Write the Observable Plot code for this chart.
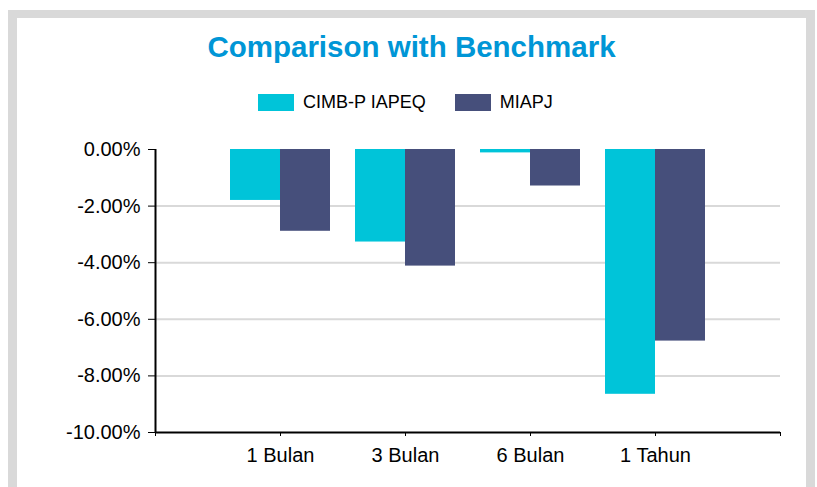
<!DOCTYPE html>
<html>
<head>
<meta charset="utf-8">
<script src="https://cdn.jsdelivr.net/npm/d3@7"></script>
<script src="https://cdn.jsdelivr.net/npm/@observablehq/plot@0.6"></script>
<style>
  html, body { margin: 0; padding: 0; background: #fff; }
  body { width: 817px; height: 487px; position: relative; overflow: hidden; font-family: "Liberation Sans", Arial, sans-serif; }
  #frame { position: absolute; left: 8px; top: 10px; width: 789px; height: 600px; border: 9px solid #d9d9d9; border-top-width: 8px; border-bottom: none; }
  #title { position: absolute; left: 17px; width: 789px; top: 29px; text-align: center; font-weight: bold; font-size: 29.5px; color: #0096d6; line-height: 36px; }
  #legend { position: absolute; left: 258px; top: 86px; }
  #legend .lg-swatch { margin-right: 29px !important; }
  #legend .lg-swatch > svg { margin-right: 9px !important; }
  #chart { position: absolute; left: 0; top: 130px; }
</style>
</head>
<body>
<div id="frame"></div>
<div id="title">Comparison with Benchmark</div>
<div id="legend"></div>
<div id="chart"></div>
<script>
const categories = ["1 Bulan", "3 Bulan", "6 Bulan", "1 Tahun"];
const seriesNames = ["CIMB-P IAPEQ", "MIAPJ"];
const cimbValues = [-1.80, -3.27, -0.12, -8.65];
const miapjValues = [-2.89, -4.12, -1.29, -6.77];
const yTicks = [0, -2, -4, -6, -8, -10];
const colors = ["#00c4d9", "#464f7b"];

const barWidth = 0.4;
const rows = [];
categories.forEach((c, i) => {
  rows.push({cat: c, pos: i + 1, series: seriesNames[0], value: cimbValues[i], x1: i + 1 - barWidth, x2: i + 1});
  rows.push({cat: c, pos: i + 1, series: seriesNames[1], value: miapjValues[i], x1: i + 1, x2: i + 1 + barWidth});
});
const xTicks = d3.range(0, categories.length + 2);

const font = '"Liberation Sans", Arial, sans-serif';

const chart = Plot.plot({
  width: 817,
  height: 356,
  marginLeft: 155,
  marginRight: 37,
  marginTop: 19,
  marginBottom: 54,
  style: {background: "transparent", fontFamily: font, fontSize: "20px", color: "#000", overflow: "visible"},
  x: {type: "linear", domain: [0, categories.length + 1]},
  y: {domain: [-10, 0]},
  color: {domain: seriesNames, range: colors},
  marks: [
    Plot.gridY([-2, -4, -6, -8], {stroke: "#d9d9d9", strokeOpacity: 1, strokeWidth: 2}),
    Plot.rectY(rows, {x1: "x1", x2: "x2", y1: 0, y2: "value", fill: "series"}),
    Plot.axisY({ticks: yTicks, tickFormat: d => d.toFixed(2) + "%", tickSize: 7, tickPadding: 8, label: null, stroke: "#000", fill: "#000"}),
    Plot.axisX({ticks: xTicks, tickFormat: d => categories[d - 1] ?? "", tickSize: 4, tickPadding: 11, label: null, stroke: "#000", fill: "#000"}),
    Plot.ruleX([0], {stroke: "#000", strokeWidth: 2}),
    Plot.ruleY([-10], {stroke: "#000", strokeWidth: 2})
  ]
});
document.getElementById("chart").appendChild(chart);

const legend = Plot.legend({
  color: {domain: seriesNames, range: colors},
  className: "lg",
  swatchWidth: 36,
  swatchHeight: 17,
  style: {fontFamily: font, fontSize: "18px", color: "#000"}
});
document.getElementById("legend").appendChild(legend);
</script>
</body>
</html>
